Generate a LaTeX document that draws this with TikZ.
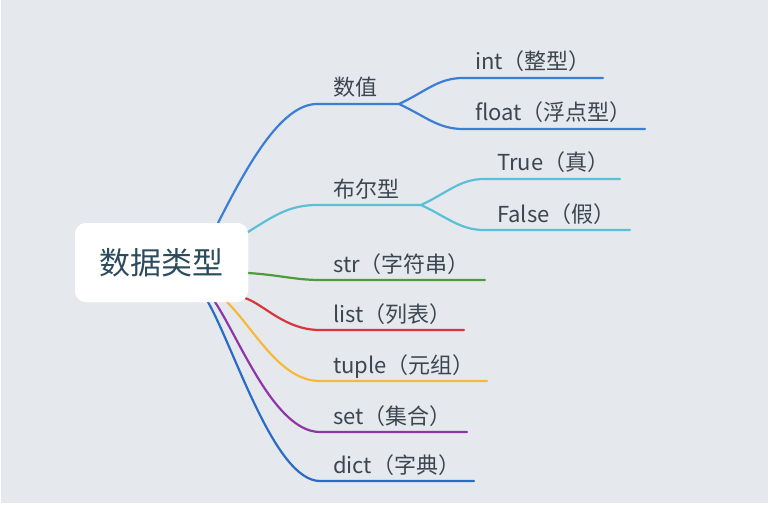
\documentclass[tikz,border=0pt]{standalone}
\usepackage{fontspec}
\setmainfont{Noto Sans CJK SC}
\definecolor{bg}{HTML}{E5E9ED}
\definecolor{txt}{HTML}{3C4650}
\definecolor{ctxt}{HTML}{2B4B5E}
\definecolor{cnum}{HTML}{3A7FD5}
\definecolor{cbool}{HTML}{5BBFD6}
\definecolor{cstr}{HTML}{4F9A3B}
\definecolor{clist}{HTML}{D9363A}
\definecolor{ctuple}{HTML}{F6B93B}
\definecolor{cset}{HTML}{8E35A8}
\definecolor{cdict}{HTML}{2A6BC6}
\tikzset{
  lbl/.style={anchor=base west, inner sep=0pt, text=txt, font=\fontsize{22}{24}\selectfont},
  branch/.style={line width=2.2pt, line cap=round},
}
\begin{document}
\begin{tikzpicture}[x=1pt,y=-1pt]
\useasboundingbox (0,0) rectangle (770,505);
\fill[white] (0,0) rectangle (770,505);
\fill[bg] (1,0) rectangle (768,503);
% central node
\node[fill=white, rounded corners=11pt, minimum width=173pt, minimum height=79pt, inner sep=0pt,
      text=ctxt, font=\fontsize{31}{34}\selectfont] (root) at (161.5,262.5) {数据类型};
% anchor coordinates
\coordinate (rNum) at (218,223);
\coordinate (rBool) at (248,232);
\coordinate (rStr) at (248,273);
\coordinate (rList) at (245,298);
\coordinate (rTuple) at (227,302);
\coordinate (rSet) at (215,302);
\coordinate (rDict) at (208,302);
% first level points
\coordinate (numA) at (317,104);
\coordinate (numF) at (399,104);
\coordinate (boolA) at (317,205);
\coordinate (boolF) at (421,205);
\coordinate (intA) at (463,78);   \coordinate (intB) at (603,78);
\coordinate (fltA) at (463,129);  \coordinate (fltB) at (645,129);
\coordinate (truA) at (484,179);  \coordinate (truB) at (620,179);
\coordinate (falA) at (484,230);  \coordinate (falB) at (630,230);
\coordinate (strA) at (320,280);  \coordinate (strB) at (485,280);
\coordinate (lstA) at (320,330);  \coordinate (lstB) at (464,330);
\coordinate (tupA) at (320,381);  \coordinate (tupB) at (487,381);
\coordinate (setA) at (320,432);  \coordinate (setB) at (467,432);
\coordinate (dicA) at (320,481);  \coordinate (dicB) at (474,481);
% connectors
\draw[branch, cnum] (rNum) .. controls (245,170) and (280,104) .. (numA) -- (numF);
\draw[branch, cnum] (numF) .. controls (425,92) and (438,78) .. (intA) -- (intB);
\draw[branch, cnum] (numF) .. controls (425,116) and (438,129) .. (fltA) -- (fltB);
\draw[branch, cbool] (rBool) .. controls (275,215) and (290,205) .. (boolA) -- (boolF);
\draw[branch, cbool] (boolF) .. controls (447,193) and (460,179) .. (truA) -- (truB);
\draw[branch, cbool] (boolF) .. controls (447,217) and (460,230) .. (falA) -- (falB);
\draw[branch, cstr] (rStr) .. controls (280,275) and (295,280) .. (strA) -- (strB);
\draw[branch, clist] (rList) .. controls (265,305) and (285,330) .. (lstA) -- (lstB);
\draw[branch, ctuple] (rTuple) .. controls (255,330) and (280,381) .. (tupA) -- (tupB);
\draw[branch, cset] (rSet) .. controls (240,340) and (275,432) .. (setA) -- (setB);
\draw[branch, cdict] (rDict) .. controls (235,350) and (275,481) .. (dicA) -- (dicB);
% labels
\node[lbl] (lNum) at (333,96) {数值};
\node[lbl] (lBool) at (333,197) {布尔型};
\node[lbl] (lInt) at (475,70) {int（整型）};
\node[lbl] (lFlt) at (475,121) {float（浮点型）};
\node[lbl] (lTru) at (497,171) {True（真）};
\node[lbl] (lFal) at (497,222) {False（假）};
\node[lbl] (lStr) at (333,272) {str（字符串）};
\node[lbl] (lLst) at (333,322) {list（列表）};
\node[lbl] (lTup) at (333,373) {tuple（元组）};
\node[lbl] (lSet) at (333,424) {set（集合）};
\node[lbl] (lDic) at (333,473) {dict（字典）};
% redraw root on top
\node[fill=white, rounded corners=11pt, minimum width=173pt, minimum height=79pt, inner sep=0pt,
      text=ctxt, font=\fontsize{31}{34}\selectfont] at (root) {数据类型};
\end{tikzpicture}
\end{document}
